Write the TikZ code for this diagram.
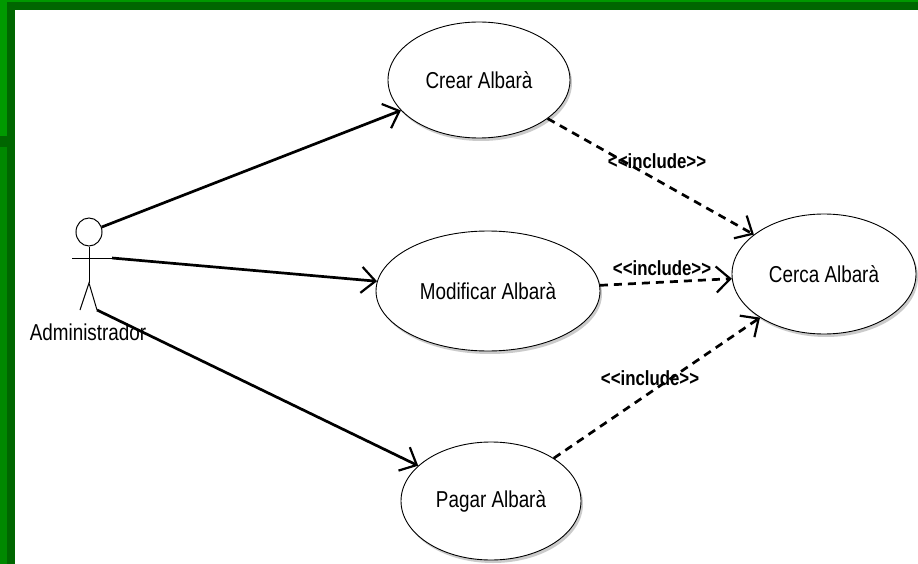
\documentclass[tikz,border=0pt]{standalone}
\usepackage{fontspec}
\setmainfont[FakeStretch=0.82]{Liberation Sans}
\usetikzlibrary{shapes.geometric,arrows.meta,shadows}
\definecolor{gbright}{RGB}{0,153,0}
\definecolor{gmid}{RGB}{0,136,0}
\definecolor{gdark}{RGB}{0,102,0}
\begin{document}
\begin{tikzpicture}[x=1pt,y=-1pt,
  usecase/.style={ellipse,draw=black,line width=0.9pt,fill=white,inner sep=0pt,
    font=\fontsize{23}{26}\selectfont,
    drop shadow={shadow xshift=2pt,shadow yshift=-3pt,fill=black!25,opacity=0.8}},
  tip/.style={-{Straight Barb[length=14pt,width=26pt,line width=2.2pt]}},
  assoc/.style={tip,line width=2.7pt},
  incl/.style={tip,line width=2.7pt,dash pattern=on 8pt off 6pt},
  incllabel/.style={font=\bfseries\fontsize{20.5}{22}\selectfont,inner sep=1pt},
  actorline/.style={line width=1pt}]
\useasboundingbox (0,0) rectangle (918,564);
\fill[white] (0,0) rectangle (918,564);
% frame
\fill[gbright] (0,0) rectangle (918,2);
\fill[gdark] (7,2) rectangle (918,10);
\fill[gbright] (0,2) rectangle (7,136);
\fill[gdark] (0,136) rectangle (7,147);
\fill[gmid] (0,147) rectangle (7,564);
\fill[gdark] (7,2) rectangle (15,564);

% use cases
\node[usecase,minimum width=182pt,minimum height=116pt] (crear) at (479,80) {Crear Albarà};
\node[usecase,minimum width=224pt,minimum height=120pt] (modif) at (488,291) {Modificar Albarà};
\node[usecase,minimum width=184pt,minimum height=120pt] (cerca) at (824,274) {Cerca Albarà};
\node[usecase,minimum width=180pt,minimum height=118pt] (pagar) at (491,501) {Pagar Albarà};

% actor
\node[ellipse,draw=black,line width=1pt,minimum width=26pt,minimum height=28pt,inner sep=0pt] (head) at (89,232) {};
\coordinate (hip) at (89,283);
\coordinate (armL) at (72,258);
\coordinate (armR) at (112,258);
\coordinate (legL) at (80,310);
\coordinate (legR) at (97,310);
\draw[actorline] (head.south) -- (hip);
\draw[actorline] (armL) -- (armR);
\draw[actorline] (legL) -- (hip) -- (legR);
\node[font=\fontsize{23}{26}\selectfont,inner sep=0pt] (actorname) at (88,332) {Administrador};

% associations
\draw[assoc] (head) -- (crear);
\draw[assoc] (armR) -- (modif);
\draw[assoc] (legR) -- (pagar);

% includes
\draw[incl] (crear) -- (cerca);
\draw[incl] (modif) -- (cerca);
\draw[incl] (pagar) -- (cerca);
\node[incllabel] (l1) at (657,161) {<{}<include>{}>};
\node[incllabel] (l2) at (662,268) {<{}<include>{}>};
\node[incllabel] (l3) at (650,378) {<{}<include>{}>};
\end{tikzpicture}
\end{document}
